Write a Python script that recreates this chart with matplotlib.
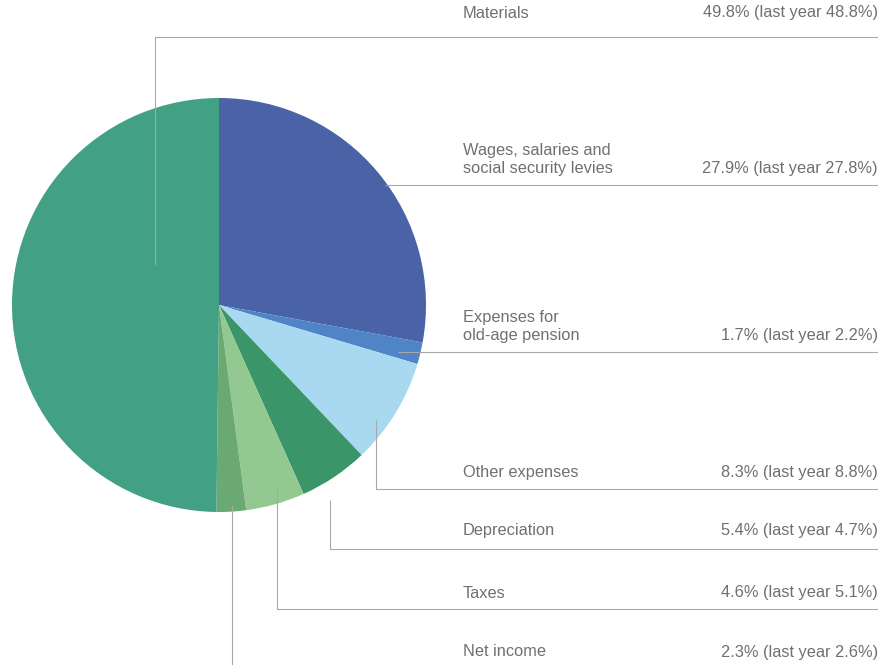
import matplotlib
matplotlib.use("Agg")
import matplotlib.pyplot as plt

# Cost structure shares (percent), clockwise from 12 o'clock
categories = ["Wages, salaries and\nsocial security levies", "Expenses for\nold-age pension",
              "Other expenses", "Depreciation", "Taxes", "Net income", "Materials"]
share_this_year = [27.9, 1.7, 8.3, 5.4, 4.6, 2.3, 49.8]
share_last_year = [27.8, 2.2, 8.8, 4.7, 5.1, 2.6, 48.8]
colors = ["#4a62a6", "#4f84c6", "#a9d9f0", "#3a9669", "#93c991", "#6aa972", "#42a085"]

W, H = 879, 665
fig = plt.figure(figsize=(W / 100, H / 100), dpi=100)
ax = fig.add_axes([0, 0, 1, 1])

cx, cy, r = 219, H - 305, 207
ax.pie(share_this_year, colors=colors, startangle=90, counterclock=False,
       center=(cx, cy), radius=r, frame=True,
       wedgeprops=dict(linewidth=0))
ax.set_xlim(0, W)
ax.set_ylim(0, H)
ax.set_aspect("equal")
ax.axis("off")

line_kw = dict(color="#a8a8a8", lw=0.8, solid_capstyle="butt")
text_kw = dict(color="#707070", fontsize=11.8, family="Liberation Sans")
x_label, x_right = 463, 878


def y(p):
    """Convert a top-down pixel row into the axes' upward y coordinate."""
    return H - p


# leader paths from inside each slice to the rule under its label
leaders = [
    [(155, 265), (155, 37), (x_right, 37)],
    [(385, 185), (x_right, 185)],
    [(398, 352), (x_right, 352)],
    [(376, 420), (376, 489), (x_right, 489)],
    [(330, 500), (330, 549), (x_right, 549)],
    [(277, 485), (277, 609), (x_right, 609)],
    [(232, 505), (232, 670)],
]
for pts in leaders:
    ax.plot([p[0] for p in pts], [y(p[1]) for p in pts], **line_kw)

# row of the bottom text line for each category
text_rows = [169, 336, 472, 531, 593, 652, 13]
for cat, cur, prev, ty in zip(categories, share_this_year, share_last_year, text_rows):
    for i, ln in enumerate(reversed(cat.split("\n"))):
        ax.text(x_label, y(ty) + i * 18, ln, ha="left", va="center", **text_kw)
    ax.text(x_right, y(ty), f"{cur:.1f}% (last year {prev:.1f}%)",
            ha="right", va="center", **text_kw)

fig.savefig("out.png", dpi=100, facecolor="white")
